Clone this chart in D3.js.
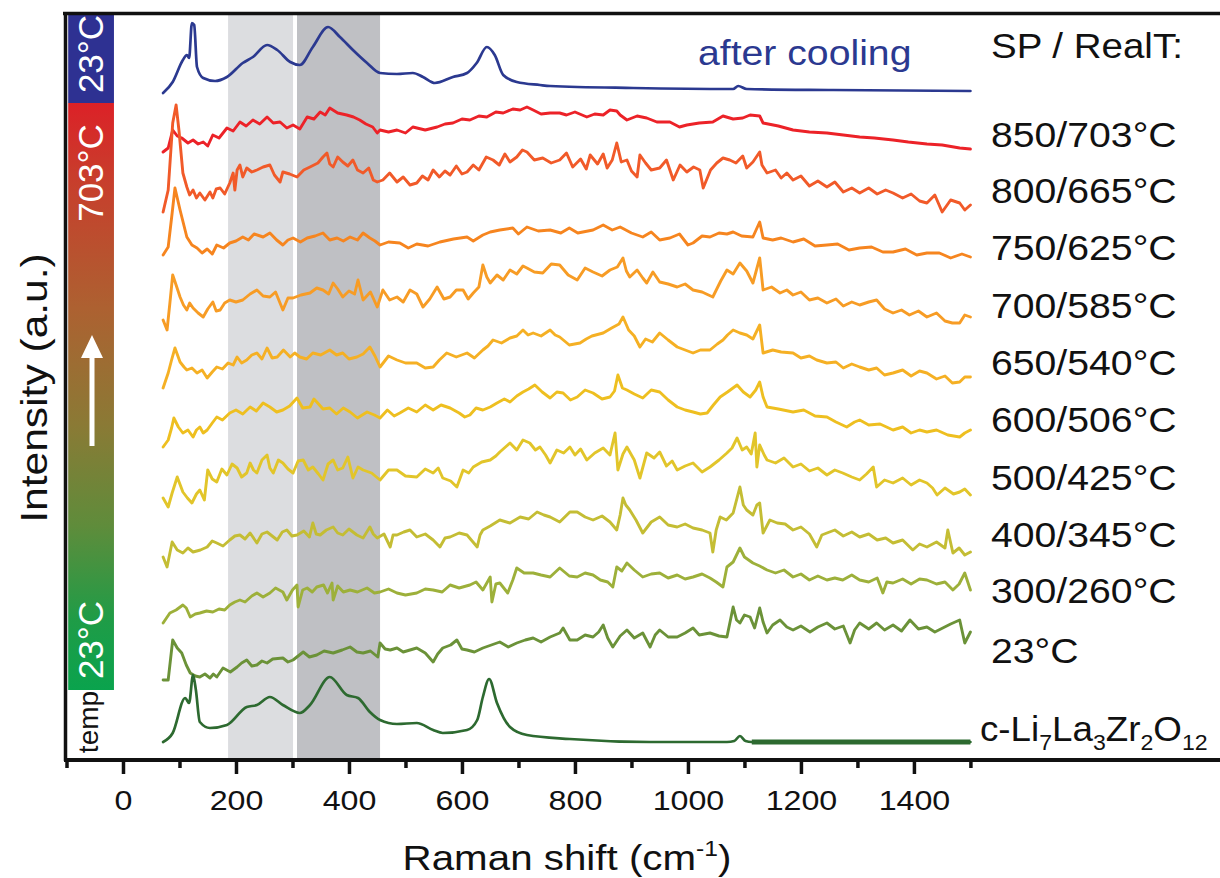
<!DOCTYPE html>
<html><head><meta charset="utf-8">
<script src="https://cdn.jsdelivr.net/npm/d3@7"></script>
<style>
html,body{margin:0;padding:0;background:#fff;}
svg text{font-family:"Liberation Sans", Arial, Helvetica, sans-serif;}
</style></head><body>
<svg id="chart" width="1220" height="878"></svg>
<script>
// ---------- DATA (x: Raman shift cm-1, y: stacked intensity a.u.) ----------
const afterCooling = [[71,667],[88,678],[106,700],[113,705],[117,702],[122,737],[126,735],[131,693],[142,682],[163,679],[184,683],[212,697],[230,703],[255,715],[273,710],[296,698],[313,695],[336,713],[363,733],[384,723],[407,710],[432,697],[455,687],[485,686],[513,687],[531,683],[552,677],[584,683],[609,687],[626,697],[644,713],[658,705],[673,685],[697,678],[738,675],[756,674],[903,672],[1080,671],[1089,674],[1104,671],[1257,670],[1500,669]];
const sp850 = [[71,608],[80,612],[88,630],[96,624],[104,622],[115,617],[124,620],[133,616],[142,618],[150,614],[159,625],[170,622],[184,632],[195,629],[207,638],[218,634],[230,640],[242,636],[255,643],[266,637],[278,638],[290,632],[301,635],[313,631],[326,643],[338,641],[349,648],[358,645],[366,652],[380,647],[396,645],[408,643],[419,640],[430,636],[442,633],[450,627],[455,630],[470,628],[485,630],[500,627],[513,633],[535,630],[556,633],[570,636],[584,637],[600,641],[614,640],[630,644],[644,643],[660,648],[673,647],[690,651],[703,650],[715,653],[726,650],[740,646],[756,647],[773,647],[785,645],[800,648],[821,643],[835,646],[850,645],[862,650],[874,649],[880,645],[892,640],[910,644],[927,642],[945,638],[968,638],[985,633],[998,635],[1020,637],[1044,638],[1062,644],[1080,641],[1097,642],[1110,645],[1127,644],[1133,637],[1160,634],[1186,630],[1215,628],[1246,627],[1275,625],[1304,623],[1330,622],[1363,620],[1390,618],[1423,616],[1450,615],[1481,612],[1500,611]];
const sp800 = [[71,548],[80,570],[88,637],[94,655],[99,630],[106,587],[113,573],[118,565],[124,570],[130,562],[136,567],[145,560],[154,568],[159,562],[165,571],[172,572],[180,566],[189,577],[195,587],[198,570],[202,590],[207,595],[212,583],[219,592],[228,588],[237,590],[248,593],[260,595],[268,585],[278,578],[283,588],[295,586],[308,583],[320,590],[331,593],[345,597],[354,603],[361,607],[366,596],[372,593],[380,603],[389,598],[398,594],[407,600],[415,590],[425,587],[435,592],[443,580],[450,578],[460,580],[472,587],[485,578],[496,583],[508,575],[520,577],[530,584],[540,580],[549,590],[560,583],[570,589],[579,585],[590,594],[600,586],[609,588],[620,595],[630,590],[643,603],[655,600],[666,595],[676,606],[685,598],[697,603],[707,610],[715,608],[728,600],[743,602],[758,597],[773,600],[785,607],[796,593],[810,601],[820,591],[827,605],[840,596],[850,606],[857,592],[866,600],[874,617],[882,598],[892,600],[900,589],[910,583],[915,605],[925,597],[935,590],[950,592],[962,600],[974,580],[986,595],[998,588],[1010,593],[1021,590],[1027,572],[1040,590],[1051,597],[1062,602],[1074,600],[1085,597],[1097,604],[1104,592],[1115,598],[1127,608],[1131,595],[1140,587],[1155,590],[1165,582],[1175,587],[1186,580],[1200,584],[1215,574],[1230,579],[1246,573],[1260,578],[1275,568],[1290,572],[1304,567],[1320,572],[1335,566],[1350,570],[1363,567],[1380,562],[1395,566],[1410,559],[1423,557],[1437,565],[1450,548],[1465,560],[1481,557],[1490,550],[1500,555]];
const sp750 = [[71,505],[80,513],[87,547],[92,572],[101,550],[113,523],[122,515],[131,512],[140,507],[149,511],[158,506],[166,515],[178,512],[189,517],[200,519],[212,523],[222,520],[232,526],[248,523],[260,527],[272,520],[283,515],[292,520],[301,522],[314,518],[326,522],[340,524],[354,527],[366,520],[379,522],[390,519],[402,523],[415,520],[425,527],[437,522],[446,519],[455,515],[470,518],[490,517],[505,512],[520,516],[540,514],[561,518],[585,521],[609,523],[620,519],[637,525],[650,528],[667,530],[690,532],[700,526],[715,533],[735,529],[756,530],[775,527],[790,532],[805,527],[832,530],[850,535],[866,530],[880,533],[900,527],[920,523],[935,528],[950,520],[968,522],[985,526],[1000,515],[1009,517],[1025,524],[1039,523],[1055,527],[1069,526],[1080,528],[1095,524],[1115,523],[1127,538],[1133,522],[1150,520],[1165,522],[1186,518],[1205,521],[1225,514],[1246,515],[1265,516],[1285,510],[1304,512],[1325,513],[1345,508],[1363,508],[1385,511],[1405,505],[1423,507],[1445,507],[1465,502],[1485,506],[1500,503]];
const sp700 = [[71,440],[78,430],[83,457],[88,485],[94,475],[101,463],[107,455],[113,450],[118,457],[124,452],[133,447],[142,443],[150,451],[159,458],[165,449],[172,450],[180,457],[189,460],[200,458],[212,460],[225,466],[237,470],[248,464],[260,463],[270,468],[283,450],[292,462],[301,462],[315,465],[331,467],[343,472],[354,470],[364,466],[372,477],[380,471],[389,463],[400,469],[410,466],[416,480],[425,460],[438,468],[450,453],[460,470],[472,460],[485,463],[496,458],[508,470],[520,466],[531,453],[543,461],[556,473],[568,461],[579,463],[590,470],[602,470],[611,461],[620,467],[630,473],[637,495],[644,483],[650,477],[662,485],[673,480],[685,490],[697,486],[708,494],[715,492],[728,488],[743,487],[758,496],[773,495],[788,485],[804,480],[818,492],[832,488],[848,484],[862,490],[875,493],[885,502],[891,489],[897,483],[910,490],[920,482],[927,477],[938,488],[950,478],[965,476],[981,473],[995,476],[1009,470],[1025,468],[1044,463],[1058,479],[1069,490],[1080,486],[1092,497],[1104,489],[1115,477],[1127,502],[1133,470],[1148,473],[1163,467],[1175,470],[1186,465],[1200,468],[1215,460],[1230,462],[1246,457],[1262,461],[1275,454],[1290,458],[1304,455],[1320,458],[1334,460],[1348,451],[1363,447],[1378,450],[1392,445],[1408,449],[1423,443],[1440,447],[1455,439],[1468,437],[1481,437],[1490,445],[1500,443]];
const sp650 = [[71,372],[80,387],[86,400],[92,412],[101,398],[108,393],[113,390],[122,392],[131,387],[140,390],[149,382],[158,388],[166,393],[176,391],[186,397],[195,395],[202,403],[210,397],[219,400],[228,405],[237,407],[246,401],[255,412],[264,402],[273,403],[284,410],[296,403],[304,407],[313,403],[325,401],[336,407],[350,405],[366,410],[378,405],[389,407],[400,401],[414,403],[425,406],[437,413],[446,404],[455,393],[470,404],[485,400],[500,397],[520,397],[535,392],[549,393],[560,400],[573,407],[590,403],[609,407],[622,402],[637,410],[646,414],[655,420],[670,417],[685,422],[697,424],[708,430],[717,425],[726,427],[740,424],[756,430],[765,425],[773,423],[790,415],[809,417],[820,421],[830,424],[850,427],[865,432],[878,436],[885,443],[895,430],[905,424],[915,413],[925,421],[937,418],[950,427],[965,420],[981,413],[995,410],[1009,407],[1022,410],[1039,410],[1052,416],[1062,420],[1070,425],[1080,430],[1092,427],[1104,425],[1115,421],[1127,435],[1133,407],[1150,410],[1165,408],[1186,407],[1200,402],[1215,404],[1228,400],[1246,397],[1262,398],[1275,392],[1290,396],[1304,393],[1320,390],[1334,392],[1348,385],[1363,387],[1380,390],[1395,384],[1410,389],[1423,387],[1440,381],[1455,384],[1468,377],[1481,378],[1490,383],[1500,383]];
const sp600 = [[71,313],[80,320],[86,332],[90,342],[98,333],[106,327],[115,330],[124,323],[130,330],[136,333],[142,327],[149,330],[158,337],[166,343],[176,340],[189,347],[200,350],[212,346],[225,353],[236,349],[248,357],[260,353],[272,348],[283,350],[295,354],[308,362],[318,352],[331,353],[338,361],[343,358],[354,351],[366,352],[378,346],[390,352],[402,348],[415,342],[432,348],[445,345],[455,342],[468,350],[480,344],[490,347],[505,352],[520,348],[535,355],[549,350],[563,355],[579,352],[595,347],[605,343],[614,345],[625,352],[637,350],[650,353],[662,357],[675,361],[685,358],[697,364],[708,368],[718,371],[729,375],[742,368],[756,362],[768,368],[779,367],[792,360],[804,363],[818,370],[832,367],[848,361],[862,363],[870,369],[876,385],[884,372],[892,370],[905,366],[920,362],[935,370],[950,368],[965,360],[981,353],[995,350],[1009,348],[1022,346],[1034,347],[1045,355],[1057,363],[1070,368],[1087,375],[1098,368],[1110,363],[1120,370],[1127,378],[1133,363],[1140,353],[1160,351],[1186,348],[1205,350],[1225,344],[1246,343],[1262,338],[1281,333],[1295,338],[1304,340],[1320,335],[1340,336],[1363,330],[1380,333],[1395,327],[1410,330],[1423,328],[1440,330],[1460,325],[1481,323],[1490,327],[1500,330]];
const sp500 = [[71,262],[80,253],[87,267],[96,283],[106,268],[114,262],[122,257],[130,266],[136,270],[144,260],[150,290],[158,281],[166,278],[175,291],[184,285],[193,296],[202,292],[210,283],[219,287],[225,297],[231,290],[237,287],[246,300],[255,305],[260,292],[266,287],[275,300],[283,297],[292,291],[301,287],[310,299],[319,300],[328,290],[336,293],[346,286],[354,280],[363,296],[372,300],[380,290],[389,292],[398,303],[407,282],[416,293],[425,290],[440,287],[455,280],[470,290],[485,290],[500,284],[520,283],[535,291],[549,287],[558,292],[566,282],[580,279],[591,273],[602,290],[612,287],[620,293],[635,298],[650,300],[660,304],[667,308],[677,313],[685,317],[697,310],[708,320],[720,317],[730,310],[738,313],[748,305],[756,297],[768,310],[780,307],[791,313],[800,305],[810,311],[821,300],[835,307],[850,312],[862,305],[871,327],[876,290],[885,306],[892,313],[905,300],[915,282],[927,307],[940,302],[950,308],[962,294],[972,299],[981,290],[995,294],[1009,297],[1025,288],[1039,293],[1055,300],[1069,307],[1078,312],[1087,322],[1096,310],[1104,313],[1112,306],[1119,327],[1122,293],[1127,315],[1135,305],[1140,300],[1155,297],[1170,302],[1186,293],[1200,296],[1215,289],[1230,292],[1246,285],[1260,290],[1274,287],[1290,283],[1304,280],[1316,286],[1328,293],[1334,273],[1348,280],[1363,277],[1380,282],[1395,275],[1410,280],[1423,277],[1433,272],[1441,265],[1455,272],[1470,266],[1481,268],[1490,271],[1500,265]];
const sp400 = [[71,203],[78,193],[87,218],[96,210],[106,207],[115,212],[124,208],[137,210],[149,213],[158,219],[166,217],[177,214],[189,220],[198,224],[207,225],[216,221],[225,227],[237,217],[246,226],[255,228],[264,224],[273,220],[282,228],[290,230],[299,224],[308,225],[320,229],[330,223],[336,237],[342,226],[349,225],[360,230],[372,233],[380,227],[389,225],[400,231],[414,225],[425,222],[437,233],[443,226],[450,222],[462,226],[473,213],[478,225],[485,225],[497,228],[508,230],[520,223],[535,226],[549,220],[561,213],[570,222],[579,223],[595,227],[609,225],[618,219],[627,213],[632,225],[637,230],[650,234],[667,240],[685,237],[703,243],[718,241],[733,248],[745,245],[756,243],[773,238],[791,248],[804,248],[818,243],[832,240],[848,244],[862,238],[874,230],[880,245],[885,262],[890,255],[897,250],[908,240],[920,227],[935,238],[950,243],[965,235],[981,233],[995,236],[1009,232],[1025,230],[1039,227],[1044,208],[1050,230],[1057,243],[1068,240],[1080,247],[1092,273],[1098,255],[1104,250],[1115,245],[1122,255],[1127,257],[1133,227],[1145,240],[1158,237],[1172,236],[1186,230],[1200,233],[1215,226],[1228,213],[1237,225],[1246,227],[1260,230],[1275,224],[1290,228],[1304,223],[1320,226],[1335,220],[1350,222],[1363,217],[1380,220],[1398,210],[1410,216],[1423,213],[1440,218],[1455,212],[1460,230],[1469,207],[1480,212],[1490,205],[1500,208]];
const sp300 = [[71,137],[83,147],[94,150],[106,155],[112,152],[119,143],[128,146],[136,147],[148,149],[159,148],[170,151],[180,150],[189,155],[198,158],[207,160],[216,158],[228,164],[237,167],[248,163],[260,167],[270,172],[283,168],[290,160],[300,170],[308,175],[310,153],[318,170],[326,172],[335,168],[343,173],[355,175],[362,167],[370,177],[372,160],[380,174],[390,168],[402,170],[415,168],[432,172],[445,167],[455,168],[470,171],[485,167],[500,165],[520,167],[535,171],[549,170],[565,168],[579,175],[595,172],[614,175],[625,178],[637,170],[650,183],[653,158],[660,176],[667,177],[681,167],[690,180],[697,192],[710,187],[726,187],[740,185],[756,183],[773,192],[790,184],[804,183],[818,187],[832,185],[845,180],[858,178],[867,173],[874,193],[883,189],[892,197],[905,190],[920,183],[935,186],[950,187],[965,182],[981,185],[995,181],[1009,183],[1025,186],[1039,182],[1050,178],[1062,173],[1069,193],[1080,198],[1092,212],[1100,203],[1115,197],[1127,194],[1140,190],[1155,187],[1170,190],[1186,183],[1200,186],[1215,180],[1230,184],[1246,180],[1260,182],[1274,180],[1290,185],[1304,180],[1320,178],[1335,182],[1345,167],[1352,178],[1363,177],[1380,181],[1395,176],[1410,181],[1423,180],[1440,176],[1455,178],[1469,170],[1480,176],[1490,187],[1500,170]];
const rt23 = [[71,80],[80,80],[88,120],[96,112],[104,107],[112,95],[119,87],[128,84],[136,83],[145,86],[154,82],[160,86],[166,83],[177,92],[190,88],[202,93],[210,97],[219,100],[228,94],[237,95],[246,99],[255,97],[265,101],[283,102],[292,98],[301,100],[310,104],[319,108],[330,103],[343,105],[356,109],[372,107],[388,110],[402,113],[414,108],[425,107],[438,109],[451,103],[455,117],[464,111],[473,110],[485,112],[496,108],[508,110],[520,112],[535,107],[549,98],[557,106],[566,112],[580,115],[591,120],[600,111],[609,110],[622,108],[637,112],[652,115],[667,118],[682,113],[697,117],[712,120],[726,122],[740,118],[756,123],[773,127],[779,132],[791,120],[804,120],[818,125],[832,123],[842,128],[850,135],[858,122],[867,113],[880,124],[892,130],[905,122],[920,127],[933,113],[942,125],[950,130],[965,123],[981,123],[995,127],[1009,132],[1020,125],[1039,127],[1055,124],[1069,123],[1080,153],[1086,140],[1092,137],[1100,145],[1110,143],[1118,132],[1127,152],[1133,138],[1140,127],[1150,135],[1163,140],[1175,133],[1186,130],[1200,134],[1216,128],[1230,133],[1246,137],[1260,131],[1275,134],[1287,117],[1295,130],[1304,137],[1320,131],[1334,137],[1348,130],[1363,135],[1378,129],[1393,140],[1408,131],[1423,133],[1437,128],[1451,132],[1465,136],[1481,140],[1490,117],[1500,128]];
const llzo = [[71,18],[88,27],[110,62],[117,57],[124,85],[129,70],[136,38],[154,32],[184,35],[219,53],[237,55],[260,63],[283,55],[313,47],[331,55],[366,83],[396,65],[416,62],[437,48],[455,40],[485,36],[520,37],[549,30],[566,27],[609,30],[627,40],[637,63],[648,81],[662,57],[685,33],[715,25],[791,21],[933,18],[1069,18],[1082,19],[1092,24],[1102,19],[1113,18],[1300,18],[1500,18]];

const seriesLabels = ["after cooling","850/703°C","800/665°C","750/625°C","700/585°C","650/540°C","600/506°C","500/425°C","400/345°C","300/260°C","23°C"];
const refLabelParts = [["c-Li",0],["7",1],["La",0],["3",1],["Zr",0],["2",1],["O",0],["12",1]];
const seriesColors = ["#2b3990","#ec2228","#f15a29","#f6851f","#f79c25","#f5b024","#eebf20","#e2c52a","#c4bd34","#9db03a","#6b9238","#2d6a30"];
const seriesData = [afterCooling, sp850, sp800, sp750, sp700, sp650, sp600, sp500, sp400, sp300, rt23, llzo];
const majorTicks = [0,200,400,600,800,1000,1200,1400];
const minorTicks = [-100,100,300,500,700,900,1100,1300,1500];
const bandLight = [186, 301];
const bandDark = [308, 455];

// ---------- DRAW ----------
const svg = d3.select("#chart");
const X = d3.scaleLinear().domain([-100, 1940]).range([66.5, 1219]);
const Y = d3.scaleLinear().domain([0, 748]).range([760, 12]);

// bands
svg.append("rect").attr("x", X(bandLight[0])).attr("width", X(bandLight[1]) - X(bandLight[0]))
  .attr("y", 14).attr("height", 744).attr("fill", "#dcdde0");
svg.append("rect").attr("x", X(bandDark[0])).attr("width", X(bandDark[1]) - X(bandDark[0]))
  .attr("y", 14).attr("height", 744).attr("fill", "#bfc0c4");

// colour bar
const defs = svg.append("defs");
const grad = defs.append("linearGradient").attr("id","tg").attr("x1",0).attr("y1",0).attr("x2",0).attr("y2",1);
[[0,"#dc2127"],[0.12,"#c93c2c"],[0.35,"#ad6131"],[0.55,"#8a7a35"],[0.72,"#5f8c3b"],[0.88,"#1f9c47"],[1,"#0aa34d"]]
  .forEach(s => grad.append("stop").attr("offset", s[0]).attr("stop-color", s[1]));
const cbx0 = X(-97), cbx1 = X(-16);
svg.append("rect").attr("x", cbx0).attr("y", 14).attr("width", cbx1 - cbx0).attr("height", 89).attr("fill", "#2e3192");
svg.append("rect").attr("x", cbx0).attr("y", 103).attr("width", cbx1 - cbx0).attr("height", 587).attr("fill", "url(#tg)");

function vText(x, y, str, size, fill, sx) {
  return svg.append("text").attr("transform", `translate(${x},${y}) rotate(-90) scale(${sx||1},1)`)
    .attr("text-anchor","middle").attr("font-size", size).attr("fill", fill).text(str);
}
vText(103, 54, "23°C", 35, "#fff");
vText(103, 173, "703°C", 35, "#fff");
vText(103, 640, "23°C", 35, "#fff");
vText(98, 722, "temp", 28, "#111");
// arrow
svg.append("path").attr("d", "M92,335 L103,358 L94.5,358 L94.5,446 L89.5,446 L89.5,358 L81,358 Z").attr("fill","#fff");

// spectra
const lineLin = d3.line().x(d => X(d[0])).y(d => Y(d[1]));
const lineSmooth = d3.line().x(d => X(d[0])).y(d => Y(d[1])).curve(d3.curveMonotoneX);
seriesData.forEach((data, i) => {
  const smooth = (i === 0 || i === seriesData.length - 1);
  svg.append("path").attr("d", (smooth ? lineSmooth : lineLin)(data))
    .attr("fill","none").attr("stroke", seriesColors[i]).attr("stroke-width", smooth ? 2.7 : 2.9)
    .attr("stroke-linejoin","round").attr("stroke-linecap","round");
});
// thick legend-style tail of reference spectrum
svg.append("path").attr("d", lineLin(llzo.filter(d => d[0] >= 1113)))
  .attr("fill","none").attr("stroke", seriesColors[11]).attr("stroke-width", 5);

// frame
svg.append("line").attr("x1", 63).attr("x2", 1220).attr("y1", 13.5).attr("y2", 13.5).attr("stroke","#111").attr("stroke-width",3.5);
svg.append("line").attr("x1", 65.5).attr("x2", 65.5).attr("y1", 12).attr("y2", 761).attr("stroke","#111").attr("stroke-width",3.5);

// x axis
const gx = svg.append("g").attr("transform","translate(0,760)");
gx.call(d3.axisBottom(X).tickValues(majorTicks).tickSize(14).tickFormat(d3.format("d")));
gx.select(".domain").remove();
gx.selectAll(".tick line").attr("stroke","#111").attr("stroke-width",3.5);
gx.selectAll(".tick text").attr("y", 50).attr("dy", 0).attr("font-size", 28)
  .attr("font-family", '"Liberation Sans", Arial, sans-serif').attr("fill","#111")
  .attr("transform","scale(1.15,1)");
const gm = svg.append("g").attr("transform","translate(0,760)");
gm.call(d3.axisBottom(X).tickValues(minorTicks).tickSize(8).tickFormat(""));
gm.select(".domain").remove();
gm.selectAll(".tick line").attr("stroke","#111").attr("stroke-width",3.5);
svg.append("line").attr("x1", 64).attr("x2", 1220).attr("y1", 760).attr("y2", 760).attr("stroke","#111").attr("stroke-width",4);

// axis titles
const xt = svg.append("text").attr("transform","translate(567,870) scale(1.12,1)").attr("text-anchor","middle")
  .attr("font-size",36).attr("fill","#111");
xt.append("tspan").text("Raman shift (cm");
xt.append("tspan").attr("font-size",22).attr("dy",-14).text("-1");
xt.append("tspan").attr("dy",14).text(")");
vText(47, 388, "Intensity (a.u.)", 37, "#111", 1.15);

// labels
function hText(x, y, size, fill, sx) {
  return svg.append("text").attr("transform", `translate(${x},${y}) scale(${sx},1)`)
    .attr("font-size", size).attr("fill", fill);
}
hText(698, 65, 35, "#2b3990", 1.12).text(seriesLabels[0]);
hText(991, 58, 35, "#111", 1.1).text("SP / RealT:");
const rowY = [147, 203, 260, 318, 375, 432, 490, 547, 603, 663];
rowY.forEach((y, k) => hText(991, y, 35, "#111", 1.12).text(seriesLabels[k + 1]));
const lz = hText(980, 741, 35, "#111", 1.05);
let prevSub = false;
refLabelParts.forEach(p => {
  const sub = p[1] === 1;
  const dy = sub ? 9 : (prevSub ? -9 : 0);
  lz.append("tspan").attr("font-size", sub ? 22 : 35).attr("dy", dy).text(p[0]);
  prevSub = sub;
});
</script>
</body></html>
